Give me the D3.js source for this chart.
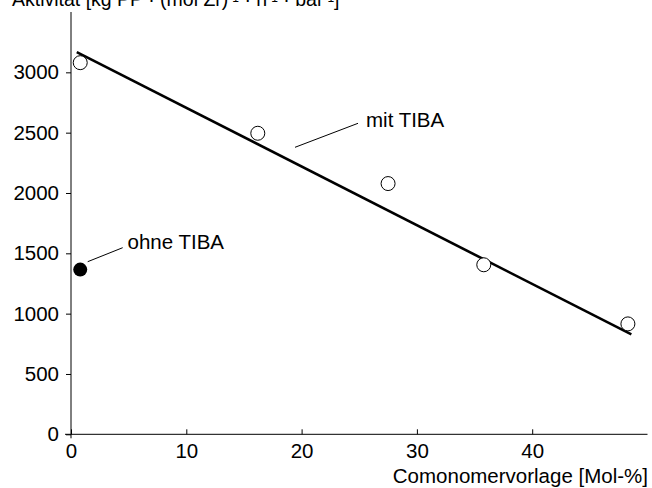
<!DOCTYPE html>
<html><head><meta charset="utf-8">
<script src="https://cdn.jsdelivr.net/npm/d3@7"></script>
<style>body{margin:0;background:#fff}svg{display:block}text{font-family:"Liberation Sans",Arial,sans-serif;fill:#000}</style>
</head><body>
<script>
const comonomer = [0.8, 16.2, 27.5, 35.8, 48.3];
const activityTIBA = [3080, 2495, 2078, 1405, 915];
const comonomerOhne = [0.8];
const activityOhne = [1365];
const fitX = [0.5, 48.6];
const fitY = [3168, 828];
const xTicks = [0, 10, 20, 30, 40];
const yTicks = [0, 500, 1000, 1500, 2000, 2500, 3000];
const xTitle = "Comonomervorlage [Mol-%]";
const yTitleParts = [["Aktivität [kg PP · (mol Zr)", false], ["-1", true], [" · h", false], ["-1", true], [" · bar", false], ["-1", true], ["]", false]];

const W = 652, H = 488, fs = 20.5;
const svg = d3.select("body").append("svg").attr("width", W).attr("height", H);
const x = d3.scaleLinear().domain([0, 50]).range([71, 647.5]);
const y = d3.scaleLinear().domain([0, 3500]).range([434.3, 12]);
const ff = "Liberation Sans, Arial, sans-serif";

// y axis
const ya = svg.append("g").attr("transform", `translate(${x(0)},0)`)
  .call(d3.axisLeft(y).tickValues(yTicks).tickFormat(d3.format("d")).tickSize(5).tickPadding(7).tickSizeOuter(0));
ya.select(".domain").remove();
ya.append("line").attr("x1", 0).attr("x2", 0).attr("y1", y(3500)).attr("y2", y(0) + 4).attr("stroke", "#000");
ya.selectAll("text").attr("font-size", fs).attr("font-family", ff).attr("fill", "#000");
ya.selectAll(".tick line").attr("stroke", "#000");

// x axis
const xa = svg.append("g").attr("transform", `translate(0,${y(0)})`)
  .call(d3.axisBottom(x).tickValues(xTicks).tickFormat(d3.format("d")).tickSize(-5).tickPadding(9).tickSizeOuter(0));
xa.select(".domain").remove();
xa.append("line").attr("x1", x(0) - 6).attr("x2", x(50)).attr("y1", 0).attr("y2", 0).attr("stroke", "#000");
xa.selectAll("text").attr("font-size", fs).attr("font-family", ff).attr("fill", "#000").attr("dy", "0.71em");
xa.selectAll(".tick line").attr("stroke", "#000");

svg.append("text").attr("x", 648).attr("y", 483).attr("text-anchor", "end").attr("font-size", fs).text(xTitle);
const yt = svg.append("text").attr("x", 12).attr("y", 6).attr("font-size", 19.5);
yTitleParts.forEach(([t, sup]) => {
  const ts = yt.append("tspan").text(t);
  if (sup) ts.attr("font-size", 12).attr("dy", -4);
  else ts.attr("dy", 0);
});
// restore baseline after each superscript
yt.selectAll("tspan").each(function(d, i) {
  const p = yTitleParts[i];
  if (!p[1] && i > 0) d3.select(this).attr("dy", 4);
});

// fit line
svg.append("line").attr("x1", x(fitX[0])).attr("y1", y(fitY[0])).attr("x2", x(fitX[1])).attr("y2", y(fitY[1]))
  .attr("stroke", "#000").attr("stroke-width", 2.6);

// points
svg.selectAll("circle.open").data(comonomer.map((c, i) => [c, activityTIBA[i]])).join("circle")
  .attr("class", "open").attr("cx", d => x(d[0])).attr("cy", d => y(d[1])).attr("r", 7)
  .attr("fill", "#fff").attr("stroke", "#000").attr("stroke-width", 1);
svg.selectAll("circle.fill").data(comonomerOhne.map((c, i) => [c, activityOhne[i]])).join("circle")
  .attr("class", "fill").attr("cx", d => x(d[0])).attr("cy", d => y(d[1])).attr("r", 7)
  .attr("fill", "#000");

// annotations
svg.append("line").attr("x1", 295).attr("y1", 147.3).attr("x2", 358).attr("y2", 123.3).attr("stroke", "#000").attr("stroke-width", 1);
svg.append("text").attr("x", 366).attr("y", 127).attr("font-size", fs).text("mit TIBA");
svg.append("line").attr("x1", 87.7).attr("y1", 261.7).attr("x2", 122.7).attr("y2", 247.7).attr("stroke", "#000").attr("stroke-width", 1);
svg.append("text").attr("x", 127.5).attr("y", 249).attr("font-size", fs).text("ohne TIBA");
</script>
</body></html>
